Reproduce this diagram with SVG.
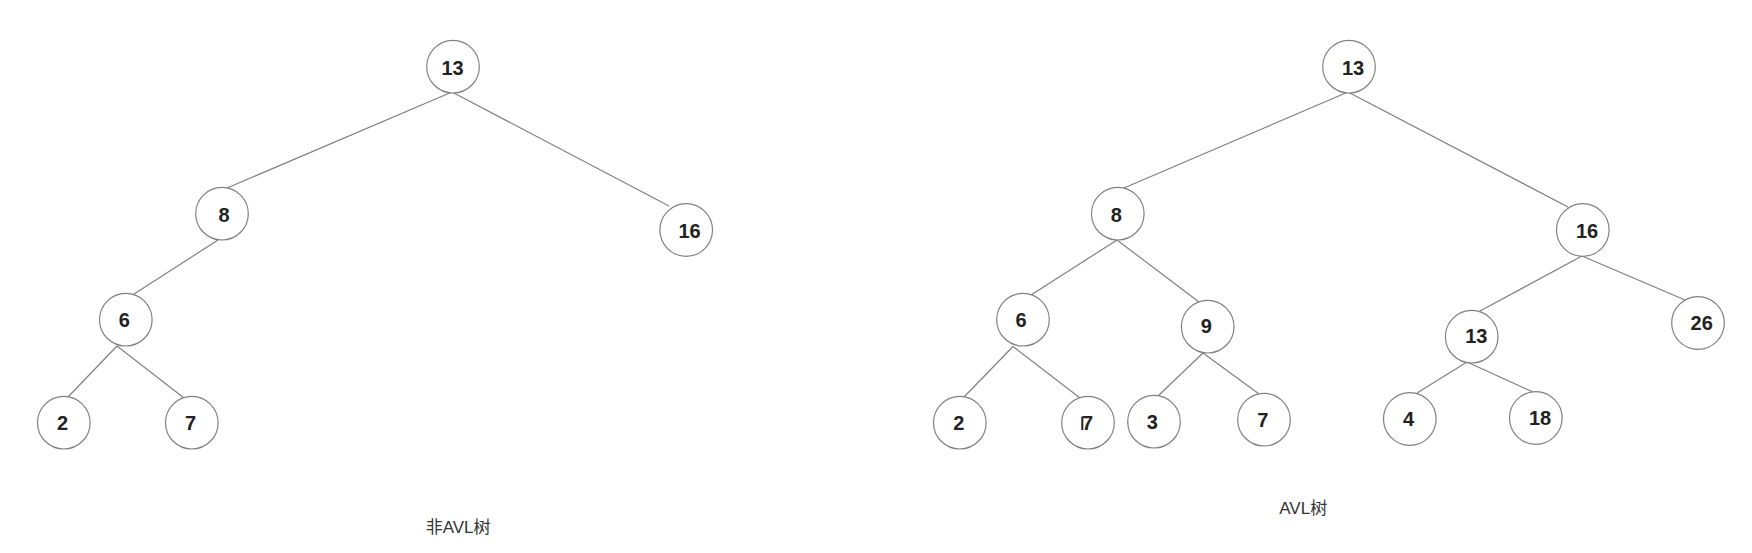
<svg xmlns="http://www.w3.org/2000/svg" width="1752" height="553" viewBox="0 0 1752 553">
<style>
.node circle{fill:#fff;stroke:#808080;stroke-width:1.2}
.node text{font-family:"Liberation Sans",Arial,sans-serif;font-weight:bold;font-size:20px;fill:#222;text-anchor:middle}
.edges line{stroke:#808080;stroke-width:1.2}
.cap{font-family:"Liberation Sans","Noto Sans CJK SC",sans-serif;font-size:17px;fill:#333}
</style>
<rect width="1752" height="553" fill="#fff"/>
<g class="edges" id="connectors">
<line x1="452" y1="92" x2="227" y2="188"/>
<line x1="452" y1="92" x2="669" y2="206"/>
<line x1="218" y1="240" x2="131" y2="296"/>
<line x1="117" y1="346" x2="68" y2="397"/>
<line x1="117" y1="346" x2="184" y2="398"/>
<line x1="1348" y1="92" x2="1124" y2="188"/>
<line x1="1348" y1="92" x2="1568" y2="207"/>
<line x1="1117" y1="240" x2="1031" y2="295"/>
<line x1="1117" y1="240" x2="1199" y2="302"/>
<line x1="1013" y1="346.5" x2="964" y2="397"/>
<line x1="1013" y1="346.5" x2="1080" y2="398"/>
<line x1="1203" y1="353" x2="1158" y2="396"/>
<line x1="1203" y1="353" x2="1259" y2="394"/>
<line x1="1582" y1="256" x2="1480" y2="311"/>
<line x1="1582" y1="256" x2="1685" y2="300"/>
<line x1="1467" y1="362" x2="1417" y2="393"/>
<line x1="1467" y1="362" x2="1533" y2="392"/>
</g>
<g class="node" id="l13"><circle cx="453" cy="66.7" r="26.3"/><text x="452.5" y="75">13</text></g>
<g class="node" id="l8"><circle cx="222" cy="213.7" r="26.3"/><text x="224" y="221.7">8</text></g>
<g class="node" id="l16"><circle cx="686.2" cy="230" r="26.3"/><text x="689.5" y="237.5">16</text></g>
<g class="node" id="l6"><circle cx="125.8" cy="319.7" r="26.3"/><text x="124.3" y="327.3">6</text></g>
<g class="node" id="l2"><circle cx="63.8" cy="422.7" r="26.3"/><text x="62.5" y="430">2</text></g>
<g class="node" id="l7"><circle cx="191.8" cy="422.7" r="26.3"/><text x="190.5" y="430">7</text></g>
<g class="node" id="r13"><circle cx="1349" cy="66.7" r="26.3"/><text x="1353" y="74.5">13</text></g>
<g class="node" id="r8"><circle cx="1117.8" cy="213.7" r="26.3"/><text x="1116.3" y="221.5">8</text></g>
<g class="node" id="r16"><circle cx="1582.8" cy="230" r="26.3"/><text x="1587" y="237.5">16</text></g>
<g class="node" id="r6"><circle cx="1023" cy="319.7" r="26.3"/><text x="1021" y="326.7">6</text></g>
<g class="node" id="r9"><circle cx="1207.7" cy="326.7" r="26.3"/><text x="1206.3" y="333.3">9</text></g>
<g class="node" id="r13b"><circle cx="1471.7" cy="336.7" r="26.3"/><text x="1476.3" y="343.3">13</text></g>
<g class="node" id="r26"><circle cx="1698" cy="323" r="26.3"/><text x="1701.7" y="330">26</text></g>
<g class="node" id="r2"><circle cx="959.8" cy="422.7" r="26.3"/><text x="958.7" y="430">2</text></g>
<g class="node" id="r7a"><circle cx="1088" cy="422.7" r="26.3"/><text x="1087.5" y="430">7</text><rect x="1081.3" y="416.5" width="2" height="13.5" fill="#222"/></g>
<g class="node" id="r3"><circle cx="1154" cy="421.7" r="26.3"/><text x="1152.3" y="429.3">3</text></g>
<g class="node" id="r7b"><circle cx="1264" cy="419.7" r="26.3"/><text x="1262.8" y="426.7">7</text></g>
<g class="node" id="r4"><circle cx="1409.8" cy="419" r="26.3"/><text x="1408.5" y="426">4</text></g>
<g class="node" id="r18"><circle cx="1535.8" cy="418" r="26.3"/><text x="1540" y="425">18</text></g>
<text class="cap" id="cap-left" x="425.7" y="533">非AVL树</text>
<text class="cap" id="cap-right" x="1279.3" y="514">AVL树</text>
</svg>
